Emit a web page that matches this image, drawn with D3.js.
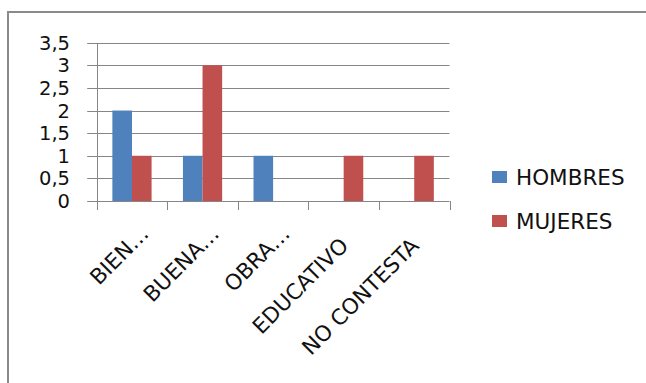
<!DOCTYPE html>
<meta charset="utf-8">
<style>
  body { margin: 0; background: #fff; }
  text { font-family: "DejaVu Sans", sans-serif; fill: #111; }
</style>
<svg width="646" height="383"></svg>
<script src="https://d3js.org/d3.v7.min.js"></script>
<script>
  //Chart data
  var categories = ["BIEN…", "BUENA…", "OBRA…", "EDUCATIVO", "NO CONTESTA"];
  var series = ["HOMBRES", "MUJERES"];
  var hombres = [2, 1, 1, 0, 0];
  var mujeres = [1, 3, 0, 1, 1];
  var yTicks = [0, 0.5, 1, 1.5, 2, 2.5, 3, 3.5];

  var svg = d3.select("svg");
  var plot = {left: 96.7, right: 449.5, top: 42.7, bottom: 201};

  //Outer frame (only left and top edges visible)
  svg.append("rect")
      .attr("x", 8).attr("y", 12)
      .attr("width", 700).attr("height", 500)
      .attr("fill", "none")
      .attr("stroke", "#8a8a8a")
      .attr("stroke-width", 2);

  //Scales
  var x0 = d3.scaleBand()
      .domain(categories)
      .range([plot.left, plot.right])
      .padding(0);

  var x1 = d3.scaleBand()
      .domain(series)
      .range([0, x0.bandwidth()])
      .paddingInner(0)
      .paddingOuter(0.8);

  var y = d3.scaleLinear()
      .domain([0, 3.5])
      .range([plot.bottom, plot.top]);

  var z = d3.scaleOrdinal()
      .domain(series)
      .range(["#4f81bd", "#c0504d"]);

  //Gridlines with left tick extension
  svg.append("g")
      .selectAll("line")
      .data(yTicks)
      .enter().append("line")
        .attr("x1", plot.left - 9.5)
        .attr("x2", plot.right)
        .attr("y1", function(d) { return Math.round(y(d)) + 0.5; })
        .attr("y2", function(d) { return Math.round(y(d)) + 0.5; })
        .attr("stroke", "#868686")
        .attr("stroke-width", 1);

  //Y axis line
  svg.append("line")
      .attr("x1", Math.round(plot.left) + 0.5).attr("x2", Math.round(plot.left) + 0.5)
      .attr("y1", Math.round(y(3.5))).attr("y2", Math.round(y(0)) + 9)
      .attr("stroke", "#868686");

  //Category tick marks below axis
  var bounds = categories.map(function(c) { return x0(c); }).concat([plot.right]);
  svg.append("g")
      .selectAll("line")
      .data(bounds)
      .enter().append("line")
        .attr("x1", function(d) { return Math.round(d) + 0.5; })
        .attr("x2", function(d) { return Math.round(d) + 0.5; })
        .attr("y1", Math.round(y(0)))
        .attr("y2", Math.round(y(0)) + 9)
        .attr("stroke", "#868686");

  //Bars
  var rows = categories.map(function(c, i) {
    return {cat: c, values: [{key: "HOMBRES", value: hombres[i]}, {key: "MUJERES", value: mujeres[i]}]};
  });

  svg.append("g")
      .selectAll("g")
      .data(rows)
      .enter().append("g")
        .attr("transform", function(d) { return "translate(" + x0(d.cat) + ",0)"; })
      .selectAll("rect")
      .data(function(d) { return d.values.filter(function(v) { return v.value > 0; }); })
      .enter().append("rect")
        .attr("x", function(d) { return x1(d.key); })
        .attr("y", function(d) { return y(d.value); })
        .attr("width", x1.bandwidth())
        .attr("height", function(d) { return y(0) - y(d.value); })
        .attr("fill", function(d) { return z(d.key); });

  //Y tick labels
  svg.append("g")
      .selectAll("text")
      .data(yTicks)
      .enter().append("text")
        .attr("x", 70)
        .attr("y", function(d) { return y(d); })
        .attr("dy", "0.36em")
        .attr("text-anchor", "end")
        .style("font-size", "19.5px")
        .text(function(d) { return String(d).replace(".", ","); });

  //Category labels, rotated
  svg.append("g")
      .selectAll("text")
      .data(categories)
      .enter().append("text")
        .attr("text-anchor", "end")
        .attr("transform", function(d) {
          return "translate(" + (x0(d) + x0.bandwidth() / 2 + 6) + "," + (y(0) + 46) + ") rotate(-45)";
        })
        .attr("dx", function(d) { return d.slice(-1) === "…" ? 17 : 0; })
        .style("font-size", "21.5px")
        .text(function(d) { return d; });

  //Legend
  var legend = svg.append("g")
      .selectAll("g")
      .data(series)
      .enter().append("g")
        .attr("transform", function(d, i) { return "translate(492," + (171 + i * 44) + ")"; });

  legend.append("rect")
      .attr("width", 15)
      .attr("height", 12)
      .attr("fill", z);

  legend.append("text")
      .attr("x", 24)
      .attr("y", 6)
      .attr("dy", "0.36em")
      .style("font-size", "21.5px")
      .text(function(d) { return d; });
</script>
